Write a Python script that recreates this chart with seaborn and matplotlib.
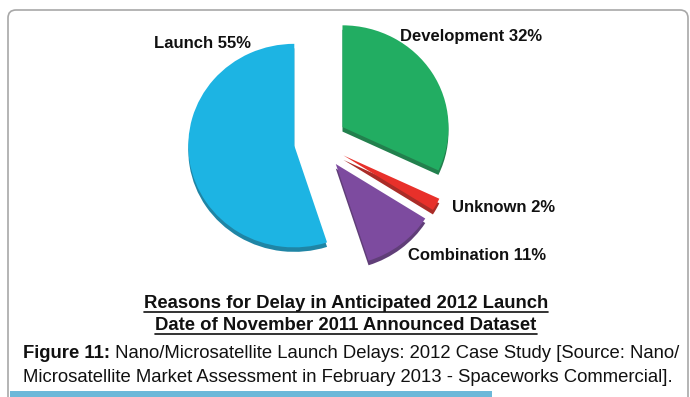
import numpy as np
import pandas as pd
import matplotlib
matplotlib.use('Agg')
import matplotlib.pyplot as plt
import matplotlib.patches as mpatches
from matplotlib.lines import Line2D
import seaborn as sns

'''
Data
'''
reasons = ['Development', 'Unknown', 'Combination', 'Launch']
shares = [32, 2, 11, 55]
label_text = ['Development 32%', 'Unknown 2%', 'Combination 11%', 'Launch 55%']
title_lines = ['Reasons for Delay in Anticipated 2012 Launch',
               'Date of November 2011 Announced Dataset']
caption_bold = 'Figure 11:'
caption_rest = ['Nano/Microsatellite Launch Delays: 2012 Case Study [Source: Nano/',
                'Microsatellite Market Assessment in February 2013 - Spaceworks Commercial].']

W, H = 690, 397

def Y(y):
    # image pixel row -> data y (origin at bottom)
    return H - y

sns.set_theme(style='white')
plt.rcParams['font.family'] = ['Liberation Sans', 'DejaVu Sans']

colors = ['#22ad62', '#e8302a', '#7d4b9f', '#1db4e3']
sides = [sns.dark_palette(c, n_colors=4)[2] for c in colors]

fig = plt.figure(figsize=(W / 100, H / 100), dpi=100)

# pie drawn in its own axes, squashed a little vertically (tilted look)
sy = 0.96
pax = fig.add_axes([0, 0, 1, 1])
center = (318, Y(142) / sy)
radius = 106
explode = [29, 29, 29, 24]
wp = dict(linewidth=0)

# 3D side of the slices: darker copy slightly lower
pax.pie(shares, colors=sides, startangle=90, counterclock=False, wedgeprops=wp,
        explode=explode, radius=radius, center=(center[0], center[1] - 4.5 / sy))
pax.pie(shares, colors=colors, startangle=90, counterclock=False, wedgeprops=wp,
        explode=explode, radius=radius, center=center)
pax.set_aspect('auto')
pax.set_xlim(0, W)
pax.set_ylim(0, H / sy)
pax.axis('off')

ax = fig.add_axes([0, 0, 1, 1])
ax.set_xlim(0, W)
ax.set_ylim(0, H)
ax.axis('off')

# slice labels
label_pos = {'Development 32%': (471, 37), 'Unknown 2%': (504, 208),
             'Combination 11%': (477, 256), 'Launch 55%': (203, 43)}
for t in label_text:
    x, y = label_pos[t]
    ax.text(x, Y(y), t, ha='center', va='center', fontsize=12,
            fontweight='bold', color='#111111')

# frame round the figure
frame = mpatches.FancyBboxPatch((8, -40), 680, Y(10) + 40,
                                boxstyle='round,pad=0,rounding_size=8',
                                fill=False, edgecolor='#a8a8a8', lw=1.2,
                                transform=ax.transData, clip_on=False)
ax.add_patch(frame)
ax.add_patch(mpatches.Rectangle((10, 0), 482, 6, color='#6cb8d9', lw=0, zorder=1))

# title, underlined
title_y = [304, 326]
title_texts = []
for line, ty in zip(title_lines, title_y):
    title_texts.append(ax.text(346, Y(ty), line, ha='center', va='center',
                               fontsize=13.3, fontweight='bold', color='#111111'))

# caption
cap_y = [358, 382]
b = ax.text(23, Y(cap_y[0]), caption_bold, ha='left', va='baseline',
            fontsize=13.3, fontweight='bold', color='#111111', zorder=5)
ax.annotate(' ' + caption_rest[0], xy=(1, 0), xycoords=b, ha='left', va='bottom',
            fontsize=13.3, color='#111111', zorder=5)
ax.text(23, Y(cap_y[1]), caption_rest[1], ha='left', va='baseline',
        fontsize=13.3, color='#111111', zorder=5)

fig.canvas.draw()
r = fig.canvas.get_renderer()
for t in title_texts:
    bb = t.get_window_extent(r)
    yl = bb.y0 + 1
    fig.add_artist(Line2D([bb.x0 / W, bb.x1 / W], [yl / H, yl / H],
                          color='#111111', lw=1.2, transform=fig.transFigure))

fig.savefig('out.png', dpi=100)
